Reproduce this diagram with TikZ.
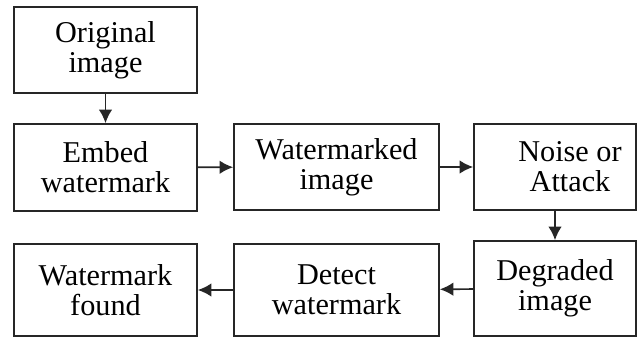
\documentclass[tikz,border=0pt]{standalone}
\usepackage{fontspec}
\setmainfont{Liberation Serif}
\usetikzlibrary{arrows.meta}

\tikzset{
  paso/.style={draw=black!85, line width=1.2pt, align=center, inner sep=0pt,
    font=\fontsize{21.5}{21.5}\selectfont},
  flecha/.style={line width=1.2pt, draw=black!85, -{Latex[length=3.4mm,width=3.4mm]}}
}

\begin{document}
\begin{tikzpicture}
        \useasboundingbox (0,0) rectangle (16.025,8.45);

        % fila superior
        \node[paso, minimum width=4.575cm, minimum height=2.15cm] (orig) at (2.6375,7.2) {Original\\image};

        % fila del medio
        \node[paso, minimum width=4.575cm, minimum height=2.175cm] (embed) at (2.6375,4.2625) {Embed\\watermark};
        \node[paso, minimum width=5.125cm, minimum height=2.15cm] (marked) at (8.4125,4.275) {Watermarked\\image};
        \node[paso, minimum width=4.05cm, minimum height=2.15cm] (noise) at (13.875,4.275) {\hspace*{0.75cm}Noise or\\\hspace*{0.75cm}Attack};

        % fila inferior
        \node[paso, minimum width=4.05cm, minimum height=2.375cm] (degraded) at (13.875,1.2375) {Degraded\\image};
        \node[paso, minimum width=5.125cm, minimum height=2.3cm] (detect) at (8.4125,1.2) {Detect\\watermark};
        \node[paso, minimum width=4.575cm, minimum height=2.3cm] (found) at (2.6375,1.2) {Watermark\\found};

        % flechas
        \draw[flecha] (orig) -- (embed);
        \draw[flecha] (embed) -- (marked);
        \draw[flecha] (marked) -- (noise);
        \draw[flecha] (noise) -- (degraded);
        \draw[flecha] (degraded) -- (detect);
        \draw[flecha] (detect) -- (found);

      \end{tikzpicture}
\end{document}
